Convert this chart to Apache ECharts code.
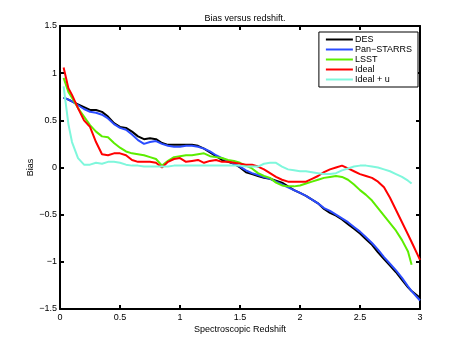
<!DOCTYPE html>
<html>
<head>
<meta charset="UTF-8">
<title>Bias versus redshift</title>
<script src="https://cdn.jsdelivr.net/npm/echarts@6/dist/echarts.min.js"></script>
<style>
  html, body { margin: 0; padding: 0; background: #fff; }
  #main { width: 463px; height: 348px; }
</style>
</head>
<body>
<div id="main"></div>
<script>
// redshift grid (x values shared by all curves)
var z = [0.03, 0.07, 0.1, 0.15, 0.2, 0.25, 0.3, 0.35, 0.4, 0.45,
         0.5, 0.55, 0.6, 0.65, 0.7, 0.75, 0.8, 0.85, 0.9, 0.95,
         1.0, 1.05, 1.1, 1.15, 1.2, 1.25, 1.3, 1.35, 1.4, 1.45,
         1.5, 1.55, 1.6, 1.65, 1.7, 1.75, 1.8, 1.85, 1.9, 1.95,
         2.0, 2.05, 2.1, 2.15, 2.2, 2.25, 2.3, 2.35, 2.4, 2.45,
         2.5, 2.55, 2.6, 2.65, 2.7, 2.75, 2.8, 2.85, 2.9, 2.93, 3.0];

var des = [0.74, 0.72, 0.70, 0.67, 0.64, 0.61, 0.61, 0.59, 0.54, 0.47,
           0.43, 0.42, 0.38, 0.33, 0.30, 0.31, 0.30, 0.26, 0.24, 0.24,
           0.24, 0.24, 0.24, 0.23, 0.20, 0.16, 0.12, 0.08, 0.06, 0.04,
           0.00, -0.05, -0.07, -0.09, -0.11, -0.12, -0.14, -0.16, -0.20, -0.24,
           -0.27, -0.30, -0.34, -0.38, -0.44, -0.48, -0.51, -0.55, -0.60, -0.65,
           -0.70, -0.76, -0.82, -0.90, -0.97, -1.04, -1.11, -1.19, -1.27, -1.31, -1.38];

var panstarrs = [0.74, 0.72, 0.70, 0.66, 0.62, 0.59, 0.58, 0.56, 0.52, 0.46,
                 0.42, 0.40, 0.35, 0.29, 0.25, 0.27, 0.28, 0.25, 0.23, 0.22,
                 0.22, 0.23, 0.23, 0.22, 0.20, 0.17, 0.13, 0.10, 0.07, 0.04,
                 0.01, -0.03, -0.06, -0.08, -0.10, -0.12, -0.15, -0.18, -0.21, -0.24,
                 -0.27, -0.30, -0.34, -0.38, -0.43, -0.46, -0.50, -0.54, -0.58, -0.63,
                 -0.68, -0.74, -0.80, -0.87, -0.95, -1.02, -1.09, -1.17, -1.26, -1.31, -1.41];

var lsst = [0.95, 0.80, 0.74, 0.63, 0.54, 0.45, 0.38, 0.33, 0.32, 0.26,
            0.21, 0.17, 0.15, 0.14, 0.13, 0.11, 0.09, 0.02, 0.07, 0.11,
            0.12, 0.13, 0.13, 0.14, 0.15, 0.12, 0.11, 0.10, 0.08, 0.07,
            0.05, 0.02, -0.01, -0.06, -0.09, -0.11, -0.16, -0.19, -0.20, -0.20,
            -0.19, -0.17, -0.15, -0.13, -0.11, -0.10, -0.09, -0.10, -0.13, -0.18,
            -0.24, -0.29, -0.35, -0.43, -0.51, -0.59, -0.67, -0.77, -0.89, -1.03, null];

var ideal = [1.06, 0.84, 0.77, 0.63, 0.50, 0.43, 0.27, 0.14, 0.13, 0.15,
             0.15, 0.13, 0.08, 0.06, 0.06, 0.06, 0.05, 0.00, 0.06, 0.09,
             0.10, 0.06, 0.07, 0.08, 0.05, 0.07, 0.08, 0.06, 0.06, 0.05,
             0.04, 0.03, 0.03, 0.01, -0.02, -0.06, -0.10, -0.13, -0.15, -0.15,
             -0.15, -0.15, -0.12, -0.09, -0.05, -0.02, 0.00, 0.02, -0.01, -0.04,
             -0.07, -0.09, -0.11, -0.15, -0.21, -0.32, -0.45, -0.58, -0.71, -0.79, -0.98];

var idealU = [0.86, 0.46, 0.27, 0.10, 0.03, 0.03, 0.05, 0.04, 0.06, 0.06,
              0.05, 0.03, 0.02, 0.02, 0.01, 0.01, 0.01, 0.01, 0.01, 0.02,
              0.02, 0.02, 0.02, 0.02, 0.02, 0.02, 0.02, 0.02, 0.02, 0.02,
              0.02, 0.01, 0.01, 0.01, 0.04, 0.05, 0.05, 0.01, -0.02, -0.03,
              -0.04, -0.04, -0.05, -0.06, -0.07, -0.07, -0.06, -0.03, -0.01, 0.01,
              0.02, 0.02, 0.01, 0.00, -0.02, -0.04, -0.07, -0.10, -0.14, -0.17, null];

var names = ['DES', 'Pan\u2212STARRS', 'LSST', 'Ideal', 'Ideal + u'];
var colors = ['#000000', '#2b4cff', '#5ced00', '#ff0000', '#7ff7dc'];
var values = [des, panstarrs, lsst, ideal, idealU];

var font = 'Liberation Sans, Arial, sans-serif';

function pairs(ys) {
    var out = [];
    for (var i = 0; i < z.length; i++) {
        if (ys[i] !== null) out.push([z[i], ys[i]]);
    }
    return out;
}

function minus(v) {
    return String(v).replace('-', '\u2212');
}

var series = [];
for (var k = 0; k < names.length; k++) {
    series.push({
        name: names[k],
        type: 'line',
        data: pairs(values[k]),
        showSymbol: false,
        symbol: 'none',
        color: colors[k],
        lineStyle: { width: 2, color: colors[k] },
        animation: false
    });
}

var tickStyle = { inside: true, length: 4, lineStyle: { color: '#000', width: 2 } };
var lineStyle = { onZero: false, lineStyle: { color: '#000', width: 2 } };

var myChart = echarts.init(document.getElementById('main'));
var option = {
    backgroundColor: '#ffffff',
    animation: false,
    title: {
        text: 'Bias versus redshift.',
        left: 240,
        top: 9,
        textAlign: 'center',
        textStyle: { fontFamily: font, fontSize: 9, fontWeight: 'normal', color: '#000' }
    },
    legend: {
        orient: 'vertical',
        right: 45,
        top: 32,
        data: names,
        icon: 'rect',
        itemWidth: 27,
        itemHeight: 2,
        itemGap: 1,
        padding: [3, 6, 3, 7],
        borderColor: '#000',
        borderWidth: 1,
        backgroundColor: '#fff',
        textStyle: { fontFamily: font, fontSize: 9, color: '#000', padding: [0, 0, 0, -3] }
    },
    grid: { left: 60, right: 43, top: 26, bottom: 39 },
    xAxis: [{
        type: 'value',
        min: 0, max: 3, interval: 0.5,
        name: 'Spectroscopic Redshift',
        nameLocation: 'middle',
        nameGap: 16,
        nameMoveOverlap: false,
        nameTextStyle: { fontFamily: font, fontSize: 9, color: '#000' },
        axisLine: lineStyle,
        axisTick: tickStyle,
        axisLabel: { fontFamily: font, fontSize: 9, color: '#000', margin: 4, formatter: minus },
        splitLine: { show: false }
    }, {
        type: 'value',
        position: 'top',
        min: 0, max: 3, interval: 0.5,
        axisLine: lineStyle,
        axisTick: tickStyle,
        axisLabel: { show: false },
        splitLine: { show: false }
    }],
    yAxis: [{
        type: 'value',
        min: -1.5, max: 1.5, interval: 0.5,
        name: 'Bias',
        nameLocation: 'middle',
        nameGap: 25,
        nameMoveOverlap: false,
        nameTextStyle: { fontFamily: font, fontSize: 9, color: '#000' },
        axisLine: lineStyle,
        axisTick: tickStyle,
        axisLabel: { fontFamily: font, fontSize: 9, color: '#000', margin: 3, formatter: minus },
        splitLine: { show: false }
    }, {
        type: 'value',
        position: 'right',
        min: -1.5, max: 1.5, interval: 0.5,
        axisLine: lineStyle,
        axisTick: tickStyle,
        axisLabel: { show: false },
        splitLine: { show: false }
    }],
    series: series
};
myChart.setOption(option);
</script>
</body>
</html>
